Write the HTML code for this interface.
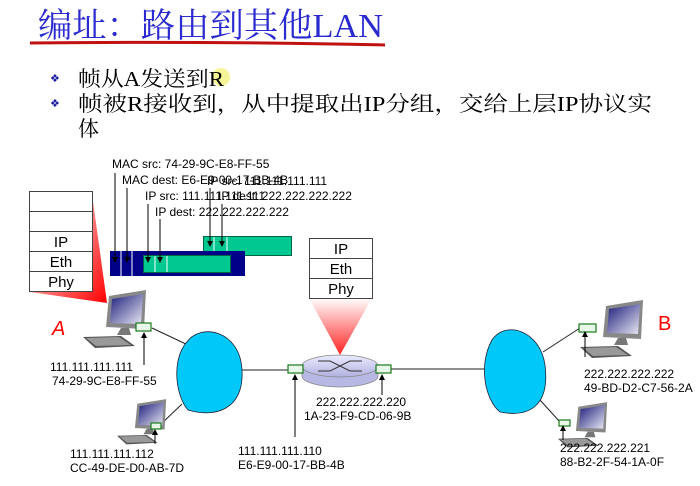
<!DOCTYPE html>
<html><head><meta charset="utf-8"><style>
html,body{margin:0;padding:0;background:#fff;}
svg{display:block;}
.t{font-family:"Liberation Sans",Arial,sans-serif;font-size:12px;fill:#000;}
.cn{font-family:"Liberation Serif","Noto Serif CJK SC",serif;}
</style></head><body>
<svg width="700" height="486" viewBox="0 0 700 486" xmlns="http://www.w3.org/2000/svg">
<defs>
<linearGradient id="rg" x1="0" y1="0" x2="1" y2="1"><stop offset="0" stop-color="#fff"/><stop offset="1" stop-color="#f00"/></linearGradient>
<linearGradient id="rg2" x1="0" y1="0" x2="0" y2="1"><stop offset="0" stop-color="#fff"/><stop offset="1" stop-color="#f22"/></linearGradient>
<linearGradient id="scr" x1="0" y1="0" x2="1" y2="1"><stop offset="0" stop-color="#1a1a7a"/><stop offset="1" stop-color="#e8e8f4"/></linearGradient>
<linearGradient id="rt" x1="0" y1="0" x2="0" y2="1"><stop offset="0" stop-color="#ececff"/><stop offset="1" stop-color="#b0b0e0"/></linearGradient>
<g id="pc">
<polygon points="26,10 63,4 61,43 23,41" fill="#888"/>
<polygon points="29,13 60,8 58,38 27,37" fill="url(#scr)"/>
<polygon points="38,42 46,42 48,49 34,49" fill="#777"/>
<polygon points="0,51 38,50 52,60 12,62" fill="#555"/>
<polygon points="3,52 36,51 48,59 13,60" fill="#999"/>
</g>
<marker id="ah" markerWidth="6" markerHeight="6" refX="3" refY="3" orient="auto"><path d="M0,0 L6,3 L0,6z" fill="#000"/></marker>
</defs>

<!-- title -->
<text x="38" y="37" class="cn" font-size="34" fill="#2a2ad0" textLength="345" lengthAdjust="spacingAndGlyphs">编址：路由到其他LAN</text>
<path d="M30,43 Q200,41 385,45" stroke="#c01010" stroke-width="3" fill="none"/>
<circle cx="221" cy="77" r="9" fill="#f4f480" opacity="0.8"/>
<text x="50" y="82" font-size="11" fill="#1a1aa0">❖</text>
<text x="78" y="86" class="cn" font-size="21" textLength="146" lengthAdjust="spacingAndGlyphs">帧从A发送到R</text>
<text x="50" y="107" font-size="11" fill="#1a1aa0">❖</text>
<text x="78" y="111" class="cn" font-size="21" textLength="574" lengthAdjust="spacingAndGlyphs">帧被R接收到，从中提取出IP分组，交给上层IP协议实</text>
<text x="78" y="136" class="cn" font-size="21">体</text>

<!-- red beams -->
<polygon points="92,194 30,292 107,303" fill="url(#rg)"/>
<polygon points="309,298 372,298 340,355" fill="url(#rg2)"/>

<!-- stacks -->
<g fill="#fff" stroke="#444" stroke-width="1">
<rect x="29.5" y="191.5" width="63" height="20"/><rect x="29.5" y="211.5" width="63" height="20"/>
<rect x="29.5" y="231.5" width="63" height="20"/><rect x="29.5" y="251.5" width="63" height="20"/><rect x="29.5" y="271.5" width="63" height="20"/>
<rect x="309.5" y="238.5" width="63" height="20"/><rect x="309.5" y="258.5" width="63" height="20"/><rect x="309.5" y="278.5" width="63" height="20"/>
</g>
<g font-family="Liberation Sans,Arial,sans-serif" font-size="15" text-anchor="middle">
<text x="61" y="247">IP</text><text x="61" y="267">Eth</text><text x="61" y="287">Phy</text>
<text x="341" y="254">IP</text><text x="341" y="274">Eth</text><text x="341" y="294">Phy</text>
</g>

<!-- packets -->
<rect x="203.5" y="236.5" width="88" height="19" fill="#00c890" stroke="#064" />
<line x1="214" y1="237" x2="214" y2="255" stroke="#fff"/><line x1="227" y1="237" x2="227" y2="255" stroke="#fff"/>
<rect x="110" y="251" width="135" height="25" fill="#000088"/>
<rect x="143.5" y="255.5" width="87" height="17" fill="#00c890" stroke="#064"/>
<g stroke="#fff"><line x1="121" y1="251" x2="121" y2="276"/><line x1="132" y1="251" x2="132" y2="276"/><line x1="155" y1="256" x2="155" y2="272"/><line x1="167" y1="256" x2="167" y2="272"/></g>
<g class="t">
<text x="112" y="168">MAC src: 74-29-9C-E8-FF-55</text>
<text x="122" y="184">MAC dest: E6-E9-00-17-BB-4B</text>
<text x="207" y="185">IP src: 111.111.111.111</text>
<text x="145" y="200">IP src: 111.111.111.111</text>
<text x="218" y="200">IP dest: 222.222.222.222</text>
<text x="155" y="216">IP dest: 222.222.222.222</text>
</g>
<g stroke="#000" stroke-width="1" marker-end="url(#ah)">
<line x1="115" y1="173" x2="115" y2="260"/><line x1="127" y1="188" x2="127" y2="260"/>
<line x1="148" y1="204" x2="148" y2="260"/><line x1="160" y1="219" x2="160" y2="260"/>
<line x1="210" y1="188" x2="210" y2="244"/><line x1="222" y1="204" x2="222" y2="244"/>
</g>

<!-- links -->
<g stroke="#222" stroke-width="1">
<line x1="152" y1="328" x2="188" y2="345"/><line x1="160" y1="425" x2="182" y2="404"/>
<line x1="240" y1="370" x2="288" y2="370"/><line x1="390" y1="369" x2="487" y2="369"/>
<line x1="543" y1="352" x2="580" y2="328"/><line x1="540" y1="400" x2="560" y2="422"/>
</g>

<!-- clouds -->
<path d="M186,343 C200,322 240,330 242,370 C244,410 215,418 188,410 C175,395 172,360 186,343Z" fill="#00c8f8" stroke="#223" stroke-width="0.8"/>
<path d="M492,340 C505,320 540,330 545,365 C550,405 530,418 500,412 C485,400 478,365 492,340Z" fill="#00c8f8" stroke="#223" stroke-width="0.8"/>

<!-- computers -->
<use href="#pc" transform="translate(83,286)"/>
<use href="#pc" transform="translate(117,396) scale(0.78)"/>
<use href="#pc" transform="translate(580,296)"/>
<use href="#pc" transform="translate(558,399) scale(0.78)"/>

<!-- router -->
<path d="M302,368 L302,376 A38,11 0 0 0 378,376 L378,368Z" fill="#b8b8e4" stroke="#888" stroke-width="0.8"/>
<ellipse cx="340" cy="366" rx="38" ry="11" fill="url(#rt)" stroke="#888" stroke-width="0.8"/>
<g stroke="#333" stroke-width="1" fill="none"><path d="M318,361 L330,361 L350,371 L362,371"/><path d="M318,371 L330,371 L350,361 L362,361"/></g>

<!-- adapters -->
<g fill="#e8f8e8" stroke="#1a7a1a" stroke-width="1.2">
<rect x="136" y="323" width="15" height="8"/><rect x="151" y="423" width="10" height="6"/>
<rect x="288" y="365" width="15" height="8"/><rect x="376" y="365" width="15" height="8"/>
<rect x="579" y="324" width="17" height="8"/><rect x="559" y="420" width="11" height="6"/>
</g>

<g stroke="#000" stroke-width="1" marker-end="url(#ah)">
<line x1="144" y1="365" x2="144" y2="335"/><line x1="155" y1="444" x2="155" y2="432"/>
<line x1="295" y1="437" x2="295" y2="377"/><line x1="382" y1="395" x2="382" y2="377"/>
<line x1="585" y1="357" x2="585" y2="334"/><line x1="563" y1="440" x2="563" y2="428"/>
</g>

<text x="52" y="335" font-family="Liberation Sans,sans-serif" font-style="italic" font-size="20" fill="#f00">A</text>
<text x="658" y="330" font-family="Liberation Sans,sans-serif" font-size="20" fill="#f00">B</text>

<g class="t">
<text x="50" y="371">111.111.111.111</text><text x="52" y="385">74-29-9C-E8-FF-55</text>
<text x="70" y="458">111.111.111.112</text><text x="70" y="472">CC-49-DE-D0-AB-7D</text>
<text x="238" y="455">111.111.111.110</text><text x="238" y="469">E6-E9-00-17-BB-4B</text>
<text x="316" y="406">222.222.222.220</text><text x="304" y="420">1A-23-F9-CD-06-9B</text>
<text x="584" y="378">222.222.222.222</text><text x="584" y="392">49-BD-D2-C7-56-2A</text>
<text x="560" y="452">222.222.222.221</text><text x="560" y="466">88-B2-2F-54-1A-0F</text>
</g>
</svg>
</body></html>
